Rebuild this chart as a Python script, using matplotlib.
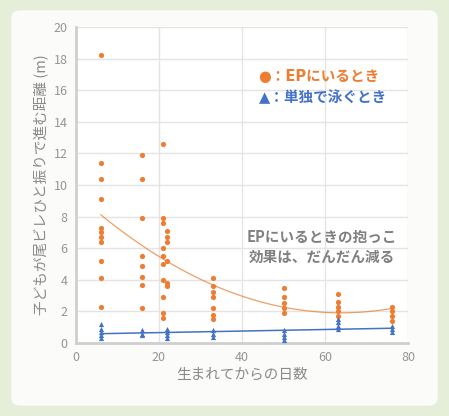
import numpy as np
import matplotlib.pyplot as plt
from matplotlib.patches import FancyBboxPatch

plt.rcParams['font.family'] = ['Noto Sans CJK JP', 'DejaVu Sans']

# EPにいるとき (orange)
ep_x = [6] * 11 + [16] * 8 + [21] * 10 + [22] * 6 + [33] * 7 + [50] * 5 + [63] * 5 + [76] * 4
ep_y = [18.2, 11.4, 10.4, 9.1, 7.3, 7.0, 6.7, 6.4, 5.2, 4.1, 2.3,
        11.9, 10.4, 7.9, 5.5, 4.9, 4.2, 3.7, 2.2,
        12.6, 7.9, 7.6, 6.0, 5.5, 5.0, 4.0, 2.9, 1.9, 1.6,
        7.1, 6.7, 6.4, 5.2, 3.8, 3.6,
        4.1, 3.6, 3.2, 2.9, 2.2, 1.8, 1.5,
        3.5, 2.9, 2.5, 2.2, 1.9,
        3.1, 2.6, 2.3, 2.0, 1.7,
        2.3, 2.0, 1.7, 1.4]

# 単独で泳ぐとき (blue)
solo_x = [6] * 5 + [16] * 3 + [22] * 4 + [33] * 3 + [50] * 4 + [63] * 4 + [76] * 3
solo_y = [1.2, 0.9, 0.7, 0.5, 0.3,
          0.8, 0.6, 0.5,
          0.9, 0.7, 0.5, 0.3,
          0.8, 0.6, 0.4,
          0.8, 0.6, 0.4, 0.2,
          1.5, 1.3, 1.1, 0.9,
          1.1, 0.9, 0.7]

orange = "#ed7d31"
blue = "#4472c4"

fig = plt.figure(figsize=(4.49, 4.16), dpi=100)
fig.patch.set_facecolor("#e4eed8")
# inner panel
fig.patches.append(FancyBboxPatch((0.025, 0.025), 0.95, 0.95, boxstyle="round,pad=0,rounding_size=0.02",
                                  transform=fig.transFigure, facecolor="#fbfcf9", edgecolor="none", zorder=-5))

ax = fig.add_axes([0.169, 0.1755, 0.74, 0.7595])
ax.set_facecolor("white")

# trend lines (fit to the data)
xs = np.linspace(6, 76, 100)
c_ep = np.polyfit(ep_x, ep_y, 2)
ax.plot(xs, np.polyval(c_ep, xs), color=orange, lw=0.9, alpha=0.75, zorder=2)
c_solo = np.polyfit(solo_x, solo_y, 1)
ax.plot(xs, np.polyval(c_solo, xs), color=blue, lw=1.1, zorder=2)

ax.scatter(ep_x, ep_y, s=14, color=orange, zorder=3, linewidths=0)
ax.scatter(solo_x, solo_y, s=14, marker="^", color=blue, zorder=3, linewidths=0)

ax.set_xlim(0, 80)
ax.set_ylim(0, 20)
ax.set_xticks(range(0, 81, 20))
ax.set_yticks(range(0, 21, 2))
ax.grid(True, color="#e4e4e4", lw=1)
ax.set_axisbelow(True)
for s in ["top", "right"]:
    ax.spines[s].set_visible(False)
for s in ["left", "bottom"]:
    ax.spines[s].set_color("#cfcfcf")
    ax.spines[s].set_linewidth(2)
ax.tick_params(length=0, labelsize=9, colors="#959595", pad=6)

ax.set_xlabel("生まれてからの日数", fontsize=10.5, color="#8a8a8a", labelpad=2)
ax.set_ylabel("子どもが尾ビレひと振りで進む距離 (m)", fontsize=10.5, color="#8a8a8a", labelpad=3)

legend_fam = ['DejaVu Sans', 'Noto Sans CJK JP']
ax.text(0.55, 0.845, "●：EPにいるとき", transform=ax.transAxes, color=orange,
        fontsize=10.5, fontweight="bold", va="center", family=legend_fam)
ax.text(0.55, 0.775, "▲：単独で泳ぐとき", transform=ax.transAxes, color=blue,
        fontsize=10.5, fontweight="bold", va="center", family=legend_fam)
ax.text(0.74, 0.305, "EPにいるときの抱っこ\n効果は、だんだん減る", transform=ax.transAxes,
        color="#808080", fontsize=10.5, fontweight="bold", ha="center", va="center", linespacing=1.3)

fig.savefig("out.png", dpi=100, facecolor=fig.get_facecolor())
